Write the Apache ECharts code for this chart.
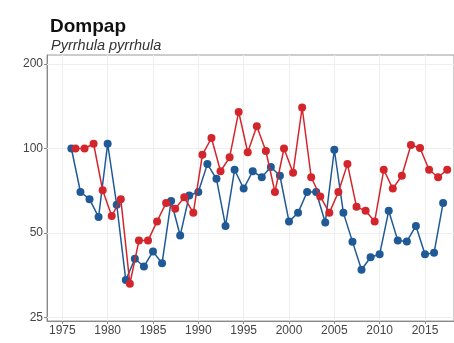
<!DOCTYPE html>
<html>
<head>
<meta charset="utf-8">
<script src="https://cdn.jsdelivr.net/npm/echarts@6/dist/echarts.min.js"></script>
<style>html,body{margin:0;padding:0;background:#fff}#c{width:454px;height:343px}</style>
</head>
<body>
<div id="c"></div>
<script>
const years = [1976,1977,1978,1979,1980,1981,1982,1983,1984,1985,1986,1987,1988,1989,1990,1991,1992,1993,1994,1995,1996,1997,1998,1999,2000,2001,2002,2003,2004,2005,2006,2007,2008,2009,2010,2011,2012,2013,2014,2015,2016,2017];
const blueValues = [100,70,66,57,104,63,34,40.5,38,43,39,65,49,68,70,88,78,53,84,72,83,79,86,80,55,59,70,70,54.5,99,59,46.6,37,41,42,60,47,46.7,53,42,42.5,64];
const redValues = [100,100,104,71,57.5,66,33,47,47,55,64,61,67,59,95,109,83,93,135,97,120,98,70,100,82,140,79,67.5,59,70,88,62,60,55,84,72,80,103,100.5,84,79,84];
const yTicks = [25,50,100,200];
const titleText = 'Dompap';
const subtitleText = 'Pyrrhula pyrrhula';

const BLUE = '#1f5a97';
const RED = '#d3262c';
const redDodge = 0.45;

const chart = echarts.init(document.getElementById('c'), null, {renderer: 'canvas'});
const blueData = years.map((y, i) => [y, blueValues[i]]);
const redData = years.map((y, i) => [y + redDodge, redValues[i]]);

chart.setOption({
  animation: false,
  backgroundColor: '#fff',
  title: [
    {text: titleText, left: 45, top: 12,
     textStyle: {fontFamily: 'Liberation Sans', fontWeight: 'bold', fontSize: 19, color: '#111'}},
    {text: subtitleText, left: 46, top: 33,
     textStyle: {fontFamily: 'Liberation Sans', fontStyle: 'italic', fontWeight: 'normal', fontSize: 14.5, color: '#333'}}
  ],
  grid: {left: 47, right: -6, top: 55, bottom: 22, show: true, borderColor: '#9a9a9a', borderWidth: 1, backgroundColor: '#fff'},
  xAxis: {
    type: 'value', min: 1973.31, max: 2018.2, minInterval: 5, maxInterval: 5,
    axisLine: {show: true, onZero: false, lineStyle: {color: '#8a8a8a', width: 1}},
    axisTick: {show: true, length: 3, lineStyle: {color: '#8a8a8a'}},
    axisLabel: {showMinLabel: false, showMaxLabel: false, formatter: v => String(v), color: '#444', fontFamily: 'Liberation Sans', fontSize: 12, margin: 4},
    splitLine: {show: true, showMinLine: false, showMaxLine: false, lineStyle: {color: '#eeeeee', width: 1}}
  },
  yAxis: {
    type: 'log', logBase: 2, min: 24.31, max: 215.3,
    axisLine: {show: true, onZero: false, lineStyle: {color: '#8a8a8a', width: 1}},
    axisTick: {show: true, length: 3, customValues: yTicks, lineStyle: {color: '#8a8a8a'}},
    axisLabel: {customValues: yTicks, formatter: v => String(Math.round(v)), color: '#444', fontFamily: 'Liberation Sans', fontSize: 12, margin: 4},
    splitLine: {show: false}
  },
  series: [
    {
      type: 'line', data: blueData, symbol: 'circle', symbolSize: 8,
      itemStyle: {color: BLUE}, lineStyle: {color: BLUE, width: 1.5}, z: 3,
      markLine: {
        silent: true, symbol: ['none', 'none'], label: {show: false},
        lineStyle: {color: '#eeeeee', type: 'solid', width: 1},
        data: yTicks.map(v => ({yAxis: v})), z: 1
      }
    },
    {
      type: 'line', data: redData, symbol: 'circle', symbolSize: 8,
      itemStyle: {color: RED}, lineStyle: {color: RED, width: 1.5}, z: 4
    }
  ]
});
</script>
</body>
</html>
